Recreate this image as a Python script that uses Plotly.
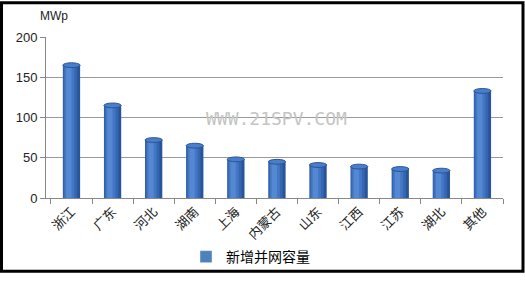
import plotly.graph_objects as go

categories = ["浙江", "广东", "河北", "湖南", "上海", "内蒙古", "山东", "江西", "江苏", "湖北", "其他"]
values = [165, 115, 72, 65, 48, 45, 41, 39, 36, 34, 133]
series_name = "新增并网容量"
y_ticks = [0, 50, 100, 150, 200]

W, H = 525, 285
L, R, T, B = 46, 22, 37, 79
pw, ph = W - L - R, H - T - B

font_cjk = "Noto Sans CJK SC, Noto Sans, sans-serif"

fig = go.Figure()
# cylinder shading layers (dark edge -> light highlight)
layers = [
    (0.42, None, "#28549a"),
    (0.34, -0.20, "#3566b2"),
    (0.24, -0.17, "#4377c3"),
    (0.13, -0.13, "#5588d2"),
]
for w, off, col in layers:
    kw = dict(offset=off) if off is not None else {}
    fig.add_trace(go.Bar(x=categories, y=values, width=w,
                         marker=dict(color=col, line=dict(width=0)),
                         showlegend=False, hoverinfo="skip", **kw))
# legend entry
fig.add_trace(go.Bar(x=[categories[0]], y=[None], name=series_name,
                     marker=dict(color="#4f81bd"), showlegend=True))

shapes = []
# top ellipses of cylinders
for i, v in enumerate(values):
    shapes.append(dict(type="circle", xref="x", yref="y",
                       x0=i - 0.21, x1=i + 0.21, y0=v - 3, y1=v + 3,
                       fillcolor="#4a7dca", line=dict(color="#2a5598", width=1)))

# outer black frame
shapes.append(dict(type="rect", xref="paper", yref="paper",
                   x0=-(L - 1.5) / pw, x1=1 + (R - 2) / pw,
                   y0=-(B - 2) / ph, y1=1 + (T - 1) / ph,
                   line=dict(color="black", width=3), fillcolor="rgba(0,0,0,0)",
                   layer="above"))

fig.update_layout(
    width=W, height=H,
    margin=dict(l=L, r=R, t=T, b=B),
    paper_bgcolor="white", plot_bgcolor="white",
    barmode="overlay",
    showlegend=True,
    legend=dict(orientation="h", x=(186 - L) / pw, y=(206 - 268) / ph,
                xanchor="left", yanchor="middle",
                font=dict(family=font_cjk, size=14, color="#000"),
                bgcolor="rgba(0,0,0,0)"),
    xaxis=dict(range=[-0.62, 10.5], tickangle=-45, ticks="outside", ticklen=5,
               tickson="boundaries", tickcolor="#888", showline=True,
               linecolor="#888", linewidth=1,
               tickfont=dict(family=font_cjk, size=13, color="#222")),
    yaxis=dict(range=[0, 200], tickvals=y_ticks, ticks="outside", ticklen=5,
               tickcolor="#888", showline=True, linecolor="#888", linewidth=1,
               showgrid=True, gridcolor="#9a9a9a", gridwidth=1, zeroline=False,
               tickfont=dict(family="Liberation Sans, Arial, sans-serif", size=13, color="#222")),
    shapes=shapes,
    annotations=[
        dict(text="MWp", xref="paper", yref="paper", x=(38 - L) / pw, y=(206 - 15) / ph,
             xanchor="left", yanchor="middle", showarrow=False,
             font=dict(family="Liberation Sans, Arial, sans-serif", size=12, color="#222")),
        dict(text="WWW.21SPV.COM", xref="paper", yref="paper", x=(276 - L) / pw,
             y=(206 - 123) / ph, xanchor="center", yanchor="middle", showarrow=False,
             font=dict(family="DejaVu Sans Mono, monospace", size=18, color="#c4c4c4")),
    ],
)

fig.write_html("out.html")
